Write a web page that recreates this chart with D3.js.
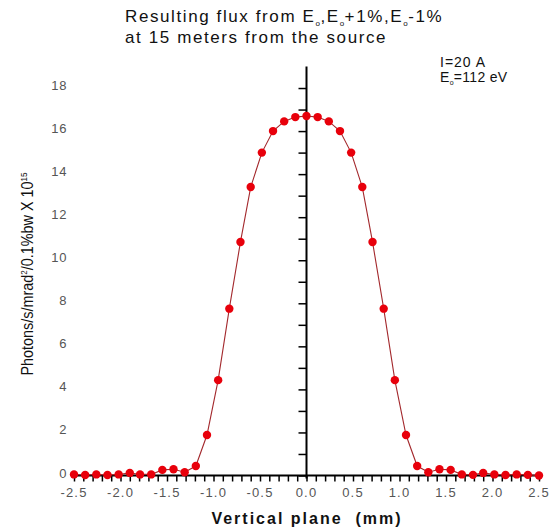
<!DOCTYPE html>
<html>
<head>
<meta charset="utf-8">
<script src="https://cdn.jsdelivr.net/npm/d3@7"></script>
<style>
  body { margin: 0; background: #fff; }
  text { font-family: "Liberation Sans", Arial, sans-serif; }
</style>
</head>
<body>
<div id="chart"></div>
<script>
var xPos = [-2.50, -2.38, -2.26, -2.14, -2.02, -1.90, -1.79, -1.67, -1.55, -1.43, -1.31,
            -1.19, -1.07, -0.95, -0.83, -0.71, -0.60, -0.48, -0.36, -0.24, -0.12, 0.00,
            0.12, 0.24, 0.36, 0.48, 0.60, 0.71, 0.83, 0.95, 1.07, 1.19, 1.31,
            1.43, 1.55, 1.67, 1.79, 1.90, 2.02, 2.14, 2.26, 2.38, 2.50];
var flux = [0.05, 0.02, 0.05, 0.02, 0.05, 0.12, 0.05, 0.05, 0.26, 0.29, 0.15,
            0.44, 1.88, 4.43, 7.75, 10.85, 13.4, 15.0, 16.0, 16.45, 16.65, 16.7,
            16.65, 16.45, 16.0, 15.0, 13.4, 10.85, 7.75, 4.43, 1.88, 0.44, 0.15,
            0.29, 0.26, 0.05, 0.03, 0.12, 0.05, 0.02, 0.05, 0.03, 0.0];
var xTickLabels = ["-2.5", "-2.0", "-1.5", "-1.0", "-0.5", "0.0", "0.5", "1.0", "1.5", "2.0", "2.5"];
var yTickLabels = [0, 2, 4, 6, 8, 10, 12, 14, 16, 18];

var width = 555, height = 527;

var svg = d3.select("#chart").append("svg")
  .attr("width", width)
  .attr("height", height);

var x = d3.scaleLinear().domain([-2.5, 2.5]).range([74, 539]);
var y = d3.scaleLinear().domain([0, 19]).range([475.5, 66.5]);

// x axis (line + ticks every 0.1)
var xAxis = d3.axisBottom(x)
  .tickValues(d3.range(-25, 26).map(function(i) { return i / 10; }))
  .tickSize(6)
  .tickFormat("");
svg.append("g")
  .attr("transform", "translate(0," + y(0) + ")")
  .call(xAxis)
  .call(function(g) {
    g.select(".domain").attr("stroke-width", 2).attr("d", "M" + x(-2.5) + ",0H" + x(2.5));
    g.selectAll(".tick line").attr("stroke-width", 1.5);
  });

svg.append("g").selectAll("text")
  .data(xTickLabels)
  .enter().append("text")
    .attr("x", function(d) { return x(+d); })
    .attr("y", 497)
    .attr("text-anchor", "middle")
    .attr("fill", "#555")
    .style("font-size", "13px")
    .style("letter-spacing", "1.2px")
    .text(function(d) { return d; });

// y axis sits at x = 0
var yAxis = d3.axisLeft(y)
  .tickValues(d3.range(0, 19))
  .tickSize(8)
  .tickFormat("");
svg.append("g")
  .attr("transform", "translate(" + x(0) + ",0)")
  .call(yAxis)
  .call(function(g) {
    g.select(".domain").attr("stroke-width", 2).attr("d", "M0," + y(19) + "V" + (y(0) + 3));
    g.selectAll(".tick line").attr("stroke-width", 1.5);
  });

svg.append("g").selectAll("text")
  .data(yTickLabels)
  .enter().append("text")
    .attr("x", 67)
    .attr("y", function(d) { return y(d) + 2; })
    .attr("text-anchor", "end")
    .attr("fill", "#555")
    .style("font-size", "13px")
    .style("letter-spacing", "0.6px")
    .text(function(d) { return d; });

// line + markers
var line = d3.line()
  .x(function(d, i) { return x(xPos[i]); })
  .y(function(d) { return y(d); });

svg.append("path")
  .datum(flux)
  .attr("d", line)
  .attr("fill", "none")
  .attr("stroke", "#a3282c")
  .attr("stroke-width", 1.1);

svg.append("g").selectAll("circle")
  .data(flux)
  .enter().append("circle")
    .attr("cx", function(d, i) { return x(xPos[i]); })
    .attr("cy", function(d) { return y(d); })
    .attr("r", 4.2)
    .attr("fill", "#e8000b");

// titles
var title = svg.append("text")
  .attr("x", 125)
  .attr("y", 22)
  .style("font-size", "17px")
  .style("letter-spacing", "1.6px")
  .attr("fill", "#111");
[["Resulting flux from E", 0], ["o", 4], [",E", -4], ["o", 4],
 ["+1%,E", -4], ["o", 4], ["-1%", -4]].forEach(function(p) {
  title.append("tspan")
    .attr("dy", p[1])
    .style("font-size", p[1] > 0 ? "8px" : "17px")
    .style("letter-spacing", p[1] > 0 ? "0.5px" : "1.6px")
    .text(p[0]);
});
svg.append("text")
  .attr("x", 125)
  .attr("y", 43)
  .style("font-size", "17px")
  .style("letter-spacing", "1.6px")
  .attr("fill", "#111")
  .text("at 15 meters from the source");

svg.append("text")
  .attr("x", 440)
  .attr("y", 67)
  .style("font-size", "14px")
  .style("letter-spacing", "1px")
  .attr("fill", "#111")
  .text("I=20 A");
var eo = svg.append("text")
  .attr("x", 440)
  .attr("y", 82)
  .style("font-size", "14px")
  .style("letter-spacing", "0.3px")
  .attr("fill", "#111");
eo.append("tspan").text("E");
eo.append("tspan").attr("dy", 3).style("font-size", "7px").text("o");
eo.append("tspan").attr("dy", -3).text("=112 eV");

svg.append("text")
  .attr("x", 307)
  .attr("y", 524)
  .attr("text-anchor", "middle")
  .style("font-size", "16px")
  .style("font-weight", "bold")
  .style("letter-spacing", "2px")
  .style("white-space", "pre")
  .attr("fill", "#111")
  .text("Vertical plane  (mm)");

var yl = svg.append("text")
  .attr("transform", "translate(33,274) rotate(-90) scale(0.9,1)")
  .attr("text-anchor", "middle")
  .style("font-size", "16px")
  .attr("fill", "#111");
yl.append("tspan").text("Photons/s/mrad");
yl.append("tspan").attr("dy", -6).style("font-size", "9px").text("2");
yl.append("tspan").attr("dy", 6).text("/0.1%bw X 10");
yl.append("tspan").attr("dy", -6).style("font-size", "9px").text("15");
</script>
</body>
</html>
